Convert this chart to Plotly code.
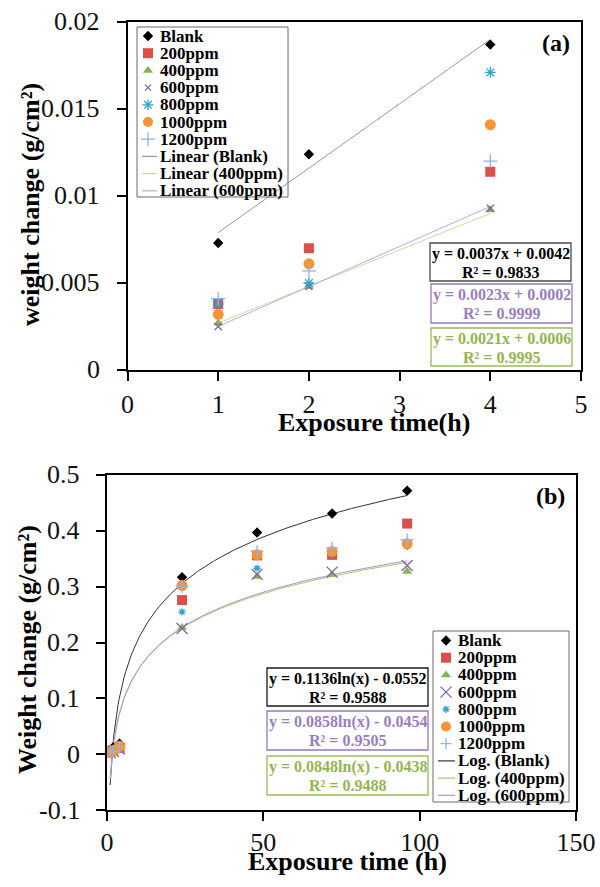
import numpy as np
import plotly.graph_objects as go

# ---------------- data ----------------
series_names = ["Blank", "200ppm", "400ppm", "600ppm", "800ppm", "1000ppm", "1200ppm"]

time_a = [1, 2, 4]
blank_a = [0.0073, 0.0124, 0.0187]
ppm200_a = [0.0038, 0.0070, 0.0114]
ppm400_a = [0.0027, 0.0048, 0.0092]
ppm600_a = [0.0025, 0.0048, 0.0093]
ppm800_a = [0.0038, 0.0050, 0.0171]
ppm1000_a = [0.0032, 0.0061, 0.0141]
ppm1200_a = [0.0041, 0.0057, 0.0120]

time_b = [1, 2, 4, 24, 48, 72, 96]
blank_b = [0.0073, 0.0124, 0.0187, 0.317, 0.397, 0.431, 0.472]
ppm200_b = [0.0038, 0.0070, 0.0114, 0.276, 0.356, 0.357, 0.413]
ppm400_b = [0.0027, 0.0048, 0.0092, 0.227, 0.318, 0.322, 0.327]
ppm600_b = [0.0025, 0.0048, 0.0093, 0.225, 0.322, 0.326, 0.338]
ppm800_b = [0.0038, 0.0050, 0.0171, 0.255, 0.333, 0.357, 0.372]
ppm1000_b = [0.0032, 0.0061, 0.0141, 0.302, 0.357, 0.363, 0.377]
ppm1200_b = [0.0041, 0.0057, 0.0120, 0.300, 0.363, 0.369, 0.384]

# trendlines (as printed on the chart)
lin_names = ["Linear (Blank)", "Linear (400ppm)", "Linear (600ppm)"]
lin_slope = [0.0037, 0.0021, 0.0023]
lin_icpt = [0.0042, 0.0006, 0.0002]
lin_r2 = [0.9833, 0.9995, 0.9999]

log_names = ["Log. (Blank)", "Log. (400ppm)", "Log. (600ppm)"]
log_coef = [0.1136, 0.0848, 0.0858]
log_icpt = [-0.0552, -0.0438, -0.0454]
log_r2 = [0.9588, 0.9488, 0.9505]

# tick labels
a_xticks = [0, 1, 2, 3, 4, 5]
a_xtext = ["0", "1", "2", "3", "4", "5"]
a_yticks = [0, 0.005, 0.01, 0.015, 0.02]
a_ytext = ["0", "0.005", "0.01", "0.015", "0.02"]
b_xticks = [0, 50, 100, 150]
b_xtext = ["0", "50", "100", "150"]
b_yticks = [-0.1, 0, 0.1, 0.2, 0.3, 0.4, 0.5]
b_ytext = ["-0.1", "0", "0.1", "0.2", "0.3", "0.4", "0.5"]

# ---------------- styles ----------------
W, H = 600, 887
SERIF = "Liberation Serif"
colors = ["#000000", "#DC4E4A", "#8DB05A", "#8064A2", "#2FA4CF", "#F89434", "#8EB4E3"]
symbols = ["diamond", "square", "triangle-up", "x-thin-open", "asterisk-open", "circle", "cross-thin-open"]
sizes_a = [8, 10, 9, 7, 9, 11, 10]
sizes_b = [8, 10, 9, 11, 6, 11, 9]
lin_colors = ["#9A9A9A", "#CFD9A6", "#C7A6D6"]
log_colors = ["#333333", "#A9C46C", "#B890D0"]

data_a = [blank_a, ppm200_a, ppm400_a, ppm600_a, ppm800_a, ppm1000_a, ppm1200_a]
data_b = [blank_b, ppm200_b, ppm400_b, ppm600_b, ppm800_b, ppm1000_b, ppm1200_b]

fig = go.Figure()


def marker(i, size):
    thin = symbols[i].endswith("-open")
    return dict(symbol=symbols[i], size=size, color=colors[i],
                line=dict(color=colors[i], width=1.3 if thin else 0))


# trendlines A
for k in range(3):
    xs = np.array([time_a[0], time_a[-1]], dtype=float)
    fig.add_trace(go.Scatter(x=xs, y=lin_slope[k] * xs + lin_icpt[k], mode="lines",
                             line=dict(color=lin_colors[k], width=1), xaxis="x", yaxis="y",
                             showlegend=False, hoverinfo="skip"))
# trendlines B
for k in range(3):
    xs = np.linspace(time_b[0], time_b[-1], 300)
    fig.add_trace(go.Scatter(x=xs, y=log_coef[k] * np.log(xs) + log_icpt[k], mode="lines",
                             line=dict(color=log_colors[k], width=1), xaxis="x2", yaxis="y2",
                             showlegend=False, hoverinfo="skip"))

for i, name in enumerate(series_names):
    fig.add_trace(go.Scatter(x=time_a, y=data_a[i], mode="markers", name=name,
                             marker=marker(i, sizes_a[i]), xaxis="x", yaxis="y", showlegend=False))
for i, name in enumerate(series_names):
    fig.add_trace(go.Scatter(x=time_b, y=data_b[i], mode="markers", name=name,
                             marker=marker(i, sizes_b[i]), xaxis="x2", yaxis="y2", showlegend=False))

# ---------------- manual legends (pixel overlay axis x3/y3) ----------------
annotations = []
shapes = []
leg_font = dict(family=SERIF, size=17, color="#000000", weight="bold")


def build_legend(box, sym_x, text_x, row0, step, line_x, line_names, line_cols, sizes):
    shapes.append(dict(type="rect", xref="x3", yref="y3", x0=box[0], y0=box[1], x1=box[2], y1=box[3],
                       line=dict(color="#6A6A6A", width=1), fillcolor="rgba(0,0,0,0)"))
    names = series_names + line_names
    for r, nm in enumerate(names):
        yy = row0 + r * step
        if r < len(series_names):
            fig.add_trace(go.Scatter(x=[sym_x], y=[yy], mode="markers", marker=marker(r, sizes[r]),
                                     xaxis="x3", yaxis="y3", showlegend=False, hoverinfo="skip"))
        else:
            k = r - len(series_names)
            fig.add_trace(go.Scatter(x=list(line_x), y=[yy, yy], mode="lines",
                                     line=dict(color=line_cols[k], width=1.2),
                                     xaxis="x3", yaxis="y3", showlegend=False, hoverinfo="skip"))
        annotations.append(dict(x=text_x, y=yy, xref="x3", yref="y3", text=nm, showarrow=False,
                                xanchor="left", yanchor="middle", font=leg_font))


build_legend((137, 27, 288, 197), 148, 158, 36, 17.2, (142, 157), lin_names, lin_colors, [8, 10, 9, 6, 9, 10, 10])
build_legend((433, 631, 569, 802), 446, 456, 640.5, 17.2, (438, 455), log_names, log_colors, [8, 10, 9, 11, 6, 10, 8])

# equation boxes
eq_font = 16


def eq_box(box, border, tcolor, line1, line2):
    shapes.append(dict(type="rect", xref="x3", yref="y3", x0=box[0], y0=box[1], x1=box[2], y1=box[3],
                       line=dict(color=border, width=1.3), fillcolor="white", layer="above"))
    cx = (box[0] + box[2]) / 2
    for j, t in enumerate([line1, line2]):
        annotations.append(dict(x=cx, y=box[1] + 11 + 18 * j, xref="x3", yref="y3", text=t, showarrow=False,
                                xanchor="center", yanchor="middle",
                                font=dict(family=SERIF, size=eq_font, color=tcolor, weight="bold")))


def lin_eq(k):
    return f"y = {lin_slope[k]:.4f}x + {lin_icpt[k]:.4f}", f"R² = {lin_r2[k]:.4f}"


def log_eq(k):
    return f"y = {log_coef[k]:.4f}ln(x) - {abs(log_icpt[k]):.4f}", f"R² = {log_r2[k]:.4f}"


eq_box((430, 243, 571, 281), "#4A4A4A", "#000000", *lin_eq(0))
eq_box((431, 284, 572, 323), "#9478B8", "#9A7EC0", *lin_eq(2))
eq_box((431, 328, 572, 366), "#9BBB59", "#93B552", *lin_eq(1))
eq_box((267, 668, 428, 706), "#1A1A1A", "#000000", *log_eq(0))
eq_box((267, 711, 428, 750), "#9478B8", "#9A7EC0", *log_eq(2))
eq_box((267, 756, 428, 795), "#9BBB59", "#93B552", *log_eq(1))

# axis titles and panel labels
title_font = dict(family=SERIF, size=26, color="#000000", weight="bold")
annotations += [
    dict(x=30, y=205, text="weight change (g/cm²)", textangle=-90),
    dict(x=374, y=422, text="Exposure time(h)"),
    dict(x=27, y=650, text="Weight change (g/cm²)", textangle=-90),
    dict(x=347, y=861, text="Exposure time (h)"),
]
for a in annotations[-4:]:
    a.update(xref="x3", yref="y3", showarrow=False, xanchor="center", yanchor="middle", font=title_font)
annotations += [
    dict(x=556, y=43, text="(a)", xref="x3", yref="y3", showarrow=False,
         font=dict(family=SERIF, size=24, color="#000000", weight="bold")),
    dict(x=550, y=496, text="(b)", xref="x3", yref="y3", showarrow=False,
         font=dict(family=SERIF, size=24, color="#000000", weight="bold")),
]

tick_font = dict(family=SERIF, size=26, color="#111111")

# y tick labels placed on the axes' own scales (value -> y), right-aligned left of the axis
for vals, texts, yref, xpix in [(a_yticks, a_ytext, "y", 102), (b_yticks, b_ytext, "y2", 82)]:
    for v, t in zip(vals, texts):
        annotations.append(dict(x=xpix, y=v, xref="x3", yref=yref, text=t, showarrow=False,
                                xanchor="right", yanchor="middle", font=tick_font))

axis_common = dict(showgrid=False, zeroline=False, showline=True, linecolor="#000000", linewidth=1.8,
                   mirror=True, ticks="outside", ticklen=9, tickwidth=1.5, tickcolor="#000000",
                   tickfont=tick_font, tickmode="array", automargin=False)

fig.update_layout(
    template="none",
    width=W, height=H, autosize=False,
    margin=dict(l=0, r=0, t=0, b=0, pad=0, autoexpand=False),
    paper_bgcolor="white", plot_bgcolor="rgba(0,0,0,0)", showlegend=False,
    xaxis=dict(domain=[127.5 / W, 581 / W], range=[0, 5], anchor="y",
               tickvals=a_xticks, ticktext=a_xtext, ticklabelstandoff=1, **axis_common),
    yaxis=dict(domain=[1 - 370 / H, 1 - 22 / H], range=[0, 0.02], anchor="x",
               tickvals=a_yticks, ticktext=a_ytext, showticklabels=False, **axis_common),
    xaxis2=dict(domain=[107 / W, 576 / W], range=[0, 150], anchor="y2",
                tickvals=b_xticks, ticktext=b_xtext, ticklabelstandoff=-1, **axis_common),
    yaxis2=dict(domain=[1 - 810 / H, 1 - 475 / H], range=[-0.1, 0.5], anchor="x2",
                tickvals=b_yticks, ticktext=b_ytext, showticklabels=False, **axis_common),
    xaxis3=dict(domain=[0, 1], range=[0, W], visible=False, anchor="y3", fixedrange=True, automargin=False),
    yaxis3=dict(domain=[0, 1], range=[H, 0], visible=False, anchor="x3", fixedrange=True, automargin=False),
    annotations=annotations, shapes=shapes,
)

fig.write_html("out.html", config={"responsive": False, "displayModeBar": False})
